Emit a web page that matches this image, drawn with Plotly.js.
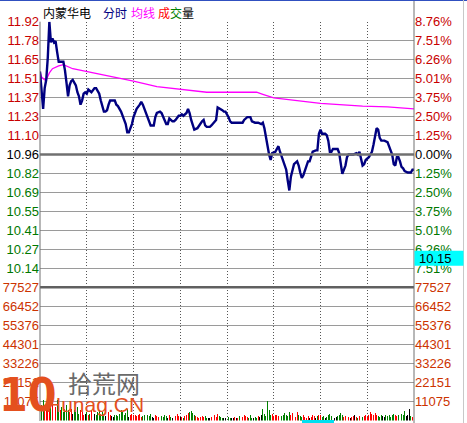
<!DOCTYPE html>
<html><head><meta charset="utf-8">
<script src="https://cdn.plot.ly/plotly-3.0.1.min.js"></script>
<style>html,body{margin:0;padding:0;background:#fff;overflow:hidden}#chart{width:467px;height:423px}</style>
</head><body><div id="chart"></div>
<script>
const stockName = '内蒙华电';
const prevClose = 10.96;
const cursorPrice = '10.15';

const priceMinutes = [0,1,2,3,4,5,6,7,8,9,10,11,12,15,16,17,18,19,20,21,23,24,25,26,27,28,29,30,31,33,34,35,36,38,39,40,41,42,43,44,45,47,48,49,50,52,53,54,55,56,57,59,60,61,62,64,65,66,68,70,71,73,74,75,77,78,79,81,82,83,85,86,87,89,90,91,92,94,95,96,97,98,99,101,102,103,104,105,106,107,109,110,112,113,114,116,117,118,119,121,122,123,125,126,128,130,131,133,135,136,138,140,142,143,144,145,146,147,148,149,151,152,153,154,156,157,158,159,160,161,162,163,165,166,167,168,169,170,172,173,174,175,177,178,179,180,181,183,184,185,186,187,188,190,191,192,193,194,196,197,198,200,201,203,204,205,206,207,208,209,211,212,213,214,215,216,217,218,219,220,221,223,224,225,226,227,228,229,230,231,232,233,234,236,238,239,240];
const priceValues = [11.56,11.43,11.29,11.44,11.50,11.66,11.92,11.77,11.80,11.77,11.78,11.70,11.63,11.63,11.57,11.48,11.38,11.46,11.49,11.50,11.46,11.41,11.38,11.32,11.35,11.40,11.41,11.40,11.43,11.41,11.43,11.44,11.44,11.40,11.35,11.30,11.27,11.27,11.28,11.32,11.35,11.35,11.35,11.32,11.31,11.27,11.23,11.21,11.18,11.12,11.12,11.18,11.23,11.26,11.29,11.32,11.34,11.32,11.26,11.21,11.17,11.17,11.23,11.26,11.27,11.26,11.23,11.18,11.18,11.22,11.20,11.20,11.21,11.24,11.24,11.25,11.24,11.26,11.29,11.26,11.21,11.17,11.14,11.15,11.17,11.18,11.20,11.21,11.17,11.16,11.16,11.17,11.20,11.21,11.30,11.29,11.28,11.27,11.27,11.23,11.20,11.19,11.19,11.19,11.19,11.19,11.21,11.23,11.23,11.20,11.19,11.19,11.18,11.19,11.15,11.08,11.02,10.96,10.92,10.97,10.98,11.00,11.02,10.98,10.92,10.89,10.85,10.77,10.70,10.80,10.85,10.89,10.91,10.88,10.83,10.79,10.81,10.85,10.91,10.91,10.94,10.98,10.99,10.99,11.11,11.14,11.11,11.11,11.10,11.06,10.98,10.98,11.00,11.00,11.00,10.97,10.89,10.82,10.88,10.94,10.96,10.96,10.96,10.97,10.96,10.98,10.93,10.88,10.89,10.92,10.94,10.96,10.98,11.03,11.09,11.15,11.14,11.08,11.06,11.06,11.06,11.05,11.02,11.00,10.96,10.89,10.88,10.94,10.94,10.91,10.87,10.86,10.84,10.83,10.83,10.85,10.85];

const avgMinutes = [0,1,3,4,6,8,12,15,21,30,49,60,75,90,107,124,139,143,150,165,180,207,223,240];
const avgValues = [11.56,11.52,11.50,11.50,11.55,11.58,11.60,11.61,11.58,11.56,11.52,11.49,11.45,11.43,11.41,11.41,11.41,11.395,11.37,11.35,11.33,11.31,11.305,11.29];

const volumes = [
 72000,9000,12000,7000,10000,13000,9000,15000,11000,14000,8000,12000,9000,6000,8000,5000,7000,9000,6000,5000,
 7000,4000,6000,5000,8000,4000,6000,5000,3000,4000,5000,3000,4000,6000,3000,4000,3000,5000,6000,4000,
 5000,3000,2500,4000,5000,3000,2500,2000,3500,3000,2500,4000,6000,5000,3000,4500,6500,2000,3000,4000,
 3500,3000,2500,3000,4000,2000,2500,3000,2000,3500,2500,4000,2000,1500,3000,2500,2000,1500,2500,2000,
 3000,2500,1500,3000,2000,1800,2000,2500,4000,2500,2000,2200,1800,2500,3000,4500,5000,5500,4500,3000,
 2500,2000,1800,2200,2500,2000,2500,1800,1500,1500,2000,2500,3000,2200,4000,2500,2000,1800,1500,1500,
 2500,2000,1500,1800,1500,2000,1500,1800,2500,1500,2000,3000,2500,2000,1800,3200,1500,1500,2000,1800,
 2500,2000,3000,7000,4000,2500,11600,6000,3500,4000,2500,3000,3500,2500,4000,2500,3000,4500,3000,2500,
 5000,3500,4500,3000,2000,5000,3500,2500,2000,3000,2000,1500,2500,1500,2000,3000,2500,1500,2500,3500,
 3000,2000,2500,1500,2000,3000,4000,2500,2000,1500,2000,2500,3000,4500,3500,2000,2500,1800,2000,1500,
 2000,2500,3000,2000,1500,2500,3500,2000,2500,3000,2000,3500,5000,4000,3000,4500,3000,2500,2000,3000,
 2500,2000,3500,2500,3000,2000,3500,4000,3000,2500,3500,5000,4000,3000,5500,2500,3000,7000,2500,2000,12000];
const volumeDirs = ['rggrrrrgrgrggrgggggr','rkggggrrrkgrgrrkgggg','ggkrrrkkgggggggggkrr','rrrrrrggggggkkrrrkgg',
 'ggkrgkrrrrkrgrrrgggg','rrrrrrggkkrrrrrgggkk','gggkkrkrgkrrrrgggkgg','rkkggggggrrrrrgggggg',
 'grrrrrgggrrrrkrrrkgr','rggkggggrkkggggrrrrk','rrkrgrggrrrrrrrrrggg','kkggggggrrgggggkkkgrr'].join('');

const priceTickLabels = ['10.14','10.27','10.41','10.55','10.69','10.82','10.96','11.10','11.23','11.37','11.51','11.65','11.78','11.92'];
const pctTickLabels = ['7.51%','6.26%','5.01%','3.75%','2.50%','1.25%','0.00%','1.25%','2.50%','3.75%','5.01%','6.26%','7.51%','8.76%'];
const volTickLabels = ['11075','22151','33226','44301','55376','66452','77527'];

// ---- layout helpers ----
const W = 467, H = 423, L = 40, R = 53;
const PW = W - L - R;
const px = x => (x - L) / PW;
const py = y => (H - y) / H;
const pMin = 10.00, pMax = 11.92;
const RED = '#c80000', GRN = '#007800', VOLC = '#cc3300';
const pricePos = priceTickLabels.map((_, i) => pMin + (i + 1) * (pMax - pMin) / 14);
const colorFor = i => i < 6 ? GRN : (i === 6 ? '#000000' : RED);
const leftText = priceTickLabels.map((t, i) => `<span style="color:${colorFor(i)}">${t}</span>`);
const rightText = pctTickLabels.map((t, i) => `<span style="color:${colorFor(i)}">${t}</span>`);
const volPos = volTickLabels.map(Number);
const dirColor = {r: '#ff0000', g: '#008000', k: '#000000'};
const volX = volumes.map((_, i) => i);
const volColors = volumes.map((_, i) => dirColor[volumeDirs[i]]);

const tickFont = {family: 'Liberation Sans, Arial, sans-serif', size: 13};
const priceDom = [py(287.3), py(21.7)];
const volDom = [py(420.6), py(287.3)];

const data = [
  {type: 'bar', x: volX, y: volumes, xaxis: 'x2', yaxis: 'y2', width: 0.6,
   marker: {color: volColors, line: {width: 0}}, hoverinfo: 'skip'},
  {type: 'scatter', mode: 'lines', x: avgMinutes, y: avgValues, xaxis: 'x', yaxis: 'y',
   line: {color: '#ff00ff', width: 1.3}, hoverinfo: 'skip'},
  {type: 'scatter', mode: 'lines', x: priceMinutes, y: priceValues, xaxis: 'x', yaxis: 'y',
   line: {color: '#000080', width: 2.4}, hoverinfo: 'skip'},
  {type: 'scatter', mode: 'lines', x: [0, 240], y: [prevClose, prevClose], xaxis: 'x', yaxis: 'y3',
   line: {width: 0}, hoverinfo: 'skip'},
  {type: 'scatter', mode: 'lines', x: [0, 240], y: [0, 0], xaxis: 'x2', yaxis: 'y4',
   line: {width: 0}, hoverinfo: 'skip'}
];

const gridX = {range: [0, 240], tickvals: [30, 60, 90, 120, 150, 180, 210], showticklabels: false,
  ticks: '', showgrid: true, gridcolor: '#555555', griddash: '1px,2px', gridwidth: 1,
  zeroline: false, showline: false, fixedrange: true};

const layout = {
  width: W, height: H, margin: {l: L, r: R, t: 0, b: 0},
  paper_bgcolor: '#ffffff', plot_bgcolor: '#ffffff', showlegend: false, bargap: 0,
  xaxis: Object.assign({}, gridX, {anchor: 'y', domain: [0, 1]}),
  xaxis2: Object.assign({}, gridX, {anchor: 'y2', domain: [0, 1], matches: 'x'}),
  yaxis: {domain: priceDom, range: [pMin, pMax], tickvals: pricePos, ticktext: leftText, ticks: '',
    tickfont: tickFont, showgrid: true, gridcolor: '#9a9a9a', griddash: 'solid', zeroline: false, anchor: 'x'},
  yaxis3: {overlaying: 'y', side: 'right', anchor: 'x', range: [pMin, pMax], tickvals: pricePos,
    ticktext: rightText, ticks: '', tickfont: tickFont, showgrid: false, zeroline: false},
  yaxis2: {domain: volDom, range: [0, 77527], tickvals: volPos, ticktext: volTickLabels, ticks: '',
    tickfont: Object.assign({color: VOLC}, tickFont), showgrid: true, gridcolor: '#9a9a9a', griddash: 'solid',
    zeroline: false, anchor: 'x2'},
  yaxis4: {overlaying: 'y2', side: 'right', anchor: 'x2', range: [0, 77527], tickvals: volPos,
    ticktext: volTickLabels, ticks: '', tickfont: Object.assign({color: VOLC}, tickFont), showgrid: false, zeroline: false},
  shapes: [
    {type: 'line', xref: 'paper', yref: 'y', x0: 0, x1: 1, y0: prevClose, y1: prevClose, line: {color: '#707070', width: 2.5}},
    {type: 'line', xref: 'paper', yref: 'paper', x0: 0, x1: 1, y0: py(287.3), y1: py(287.3), line: {color: '#606060', width: 2.5}},
    {type: 'line', xref: 'paper', yref: 'paper', x0: 0, x1: 0, y0: py(421), y1: py(21.7), line: {color: '#707070', width: 1}},
    {type: 'line', xref: 'paper', yref: 'paper', x0: 1, x1: 1, y0: py(423), y1: py(0), line: {color: '#707070', width: 1}},
    {type: 'line', xref: 'paper', yref: 'paper', x0: px(0), x1: px(467), y0: py(0.5), y1: py(0.5), line: {color: '#3050c0', width: 1}},
    {type: 'line', xref: 'paper', yref: 'paper', x0: px(463.5), x1: px(463.5), y0: py(423), y1: py(0), line: {color: '#c8c8c8', width: 1}},
    {type: 'rect', xref: 'paper', yref: 'paper', x0: px(414.5), x1: px(463.5), y0: py(265.7), y1: py(250.7), fillcolor: '#00ffff', line: {width: 0}},
    {type: 'rect', xref: 'paper', yref: 'paper', x0: px(302), x1: px(334), y0: py(423), y1: py(420), fillcolor: '#00e0f0', line: {width: 0}}
  ],
  annotations: [
    {xref: 'paper', yref: 'paper', x: px(417), y: py(258.2), xanchor: 'left', yanchor: 'middle', showarrow: false,
     text: cursorPrice, font: {family: 'Liberation Sans, Arial', size: 13, color: '#000000'}},
    {xref: 'paper', yref: 'paper', x: px(41), y: py(12), xanchor: 'left', yanchor: 'middle', showarrow: false,
     text: stockName, font: {family: 'Noto Sans CJK SC', size: 12, color: '#000000'}},
    {xref: 'paper', yref: 'paper', x: px(101), y: py(12), xanchor: 'left', yanchor: 'middle', showarrow: false,
     text: '分时', font: {family: 'Noto Sans CJK SC', size: 12, color: '#000080'}},
    {xref: 'paper', yref: 'paper', x: px(129), y: py(12), xanchor: 'left', yanchor: 'middle', showarrow: false,
     text: '均线', font: {family: 'Noto Sans CJK SC', size: 12, color: '#ff00ff'}},
    {xref: 'paper', yref: 'paper', x: px(156), y: py(12), xanchor: 'left', yanchor: 'middle', showarrow: false,
     text: '成', font: {family: 'Noto Sans CJK SC', size: 12, color: '#ff0000'}},
    {xref: 'paper', yref: 'paper', x: px(168), y: py(12), xanchor: 'left', yanchor: 'middle', showarrow: false,
     text: '交', font: {family: 'Noto Sans CJK SC', size: 12, color: '#008000'}},
    {xref: 'paper', yref: 'paper', x: px(180), y: py(12), xanchor: 'left', yanchor: 'middle', showarrow: false,
     text: '量', font: {family: 'Noto Sans CJK SC', size: 12, color: '#000000'}},
    {xref: 'paper', yref: 'paper', x: px(28), y: py(395), xanchor: 'center', yanchor: 'middle', showarrow: false,
     text: '<b>10</b>', font: {family: 'Liberation Sans Narrow, DejaVu Sans Condensed, sans-serif', size: 46, color: '#e4501e'}},
    {xref: 'paper', yref: 'paper', x: px(104), y: py(382), xanchor: 'center', yanchor: 'middle', showarrow: false,
     text: '拾荒网', font: {family: 'Noto Sans CJK SC', size: 24, color: '#6a6a6a'}},
    {xref: 'paper', yref: 'paper', x: px(95), y: py(404), xanchor: 'center', yanchor: 'middle', showarrow: false,
     text: 'Hunag.CN', font: {family: 'Liberation Sans, Arial', size: 21, color: '#e4501e'}}
  ]
};

Plotly.newPlot('chart', data, layout, {staticPlot: true, displayModeBar: false});
</script>
</body></html>
